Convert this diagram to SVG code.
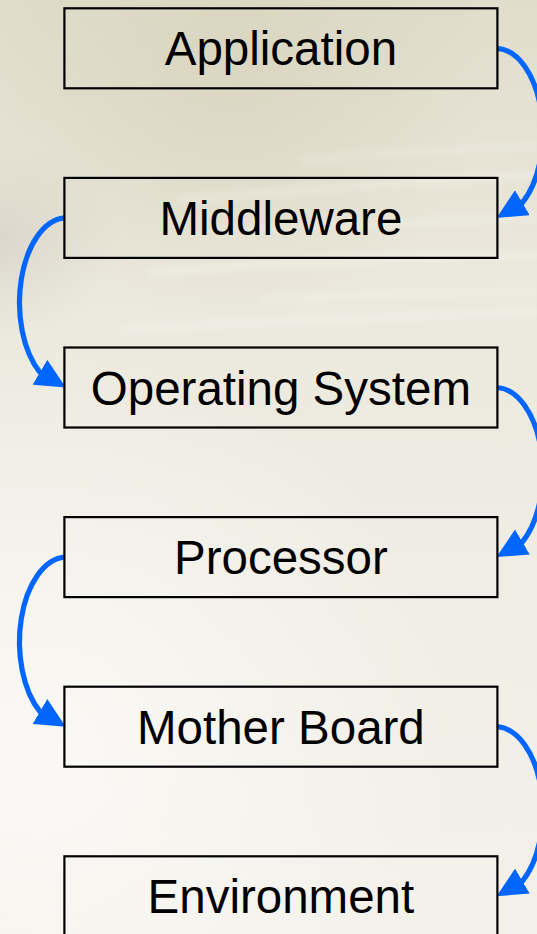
<svg xmlns="http://www.w3.org/2000/svg" width="537" height="934" viewBox="0 0 537 934">
  <style>
    .box rect { fill: none; stroke: #000; stroke-width: 2.2; }
    .box text { font-family: "Liberation Sans", Arial, sans-serif; font-size: 47.5px; fill: #000; text-anchor: middle; }
    .conn path { fill: none; stroke: #0066ff; stroke-width: 5.2; }
  </style>
  <defs>
    <linearGradient id="bg" x1="0" y1="0" x2="0" y2="1">
      <stop offset="0" stop-color="#e0ddcc"/>
      <stop offset="0.3" stop-color="#ebe8dc"/>
      <stop offset="0.6" stop-color="#efede4"/>
      <stop offset="1" stop-color="#f3f1ea"/>
    </linearGradient>
    <radialGradient id="dark" cx="230" cy="60" r="260" gradientUnits="userSpaceOnUse">
      <stop offset="0" stop-color="#d6d2bb" stop-opacity="0.7"/>
      <stop offset="1" stop-color="#d6d2bb" stop-opacity="0"/>
    </radialGradient>
    <radialGradient id="leftband" cx="0" cy="240" r="120" gradientUnits="userSpaceOnUse" gradientTransform="translate(0 240) scale(1 0.8) translate(0 -240)">
      <stop offset="0" stop-color="#cfccbf" stop-opacity="0.55"/>
      <stop offset="1" stop-color="#cfccbf" stop-opacity="0"/>
    </radialGradient>
    <radialGradient id="light" cx="40" cy="760" r="420" gradientUnits="userSpaceOnUse">
      <stop offset="0" stop-color="#fbfaf7" stop-opacity="0.9"/>
      <stop offset="1" stop-color="#fbfaf7" stop-opacity="0"/>
    </radialGradient>
    <filter id="blur" x="-20%" y="-50%" width="140%" height="200%">
      <feGaussianBlur stdDeviation="3.5"/>
    </filter>
    <marker id="ah" markerUnits="userSpaceOnUse" markerWidth="30" markerHeight="29" viewBox="0 -14.5 30 29" refX="1" refY="0" orient="auto">
      <path d="M0,-14.5 L30,0 L0,14.5 z" fill="#0066ff"/>
    </marker>
  </defs>

  <g id="background">
    <rect width="537" height="934" fill="url(#bg)"/>
    <rect width="537" height="934" fill="url(#dark)"/>
    <rect width="537" height="934" fill="url(#leftband)"/>
    <rect width="537" height="934" fill="url(#light)"/>
    <g fill="none" stroke="#ffffff" filter="url(#blur)" stroke-opacity="0.4">
      <path d="M180,200 Q360,185 537,175" stroke-width="4"/>
      <path d="M220,232 Q380,222 537,218" stroke-width="3"/>
      <path d="M150,272 Q350,258 537,255" stroke-width="5"/>
      <path d="M260,300 Q400,292 537,292" stroke-width="3"/>
      <path d="M120,330 Q330,318 537,312" stroke-width="4"/>
      <path d="M300,160 Q420,150 537,146" stroke-width="2.5"/>
    </g>
  </g>

  <g id="connectors" class="conn">
    <path d="M497.4,48.3 A47.4,84.8 0 0 1 522.4,202.7 l-0.862,0.507" marker-end="url(#ah)"/>
    <path d="M64.4,217.9 A47.4,84.8 0 0 0 39.9,372.3 l0.862,0.507" marker-end="url(#ah)"/>
    <path d="M497.4,387.5 A47.4,84.8 0 0 1 522.4,541.9 l-0.862,0.507" marker-end="url(#ah)"/>
    <path d="M64.4,557.1 A47.4,84.8 0 0 0 39.9,711.5 l0.862,0.507" marker-end="url(#ah)"/>
    <path d="M497.4,726.7 A47.4,84.8 0 0 1 522.4,881.1 l-0.862,0.507" marker-end="url(#ah)"/>
  </g>

  <g id="application" class="box">
    <rect x="64.4" y="8.3" width="433" height="80"/>
    <text x="280.9" y="65.3">Application</text>
  </g>
  <g id="middleware" class="box">
    <rect x="64.4" y="177.9" width="433" height="80"/>
    <text x="280.9" y="234.9">Middleware</text>
  </g>
  <g id="operating-system" class="box">
    <rect x="64.4" y="347.5" width="433" height="80"/>
    <text x="280.9" y="404.5">Operating System</text>
  </g>
  <g id="processor" class="box">
    <rect x="64.4" y="517.1" width="433" height="80"/>
    <text x="280.9" y="574.1">Processor</text>
  </g>
  <g id="mother-board" class="box">
    <rect x="64.4" y="686.7" width="433" height="80"/>
    <text x="280.9" y="743.7">Mother Board</text>
  </g>
  <g id="environment" class="box">
    <rect x="64.4" y="856.3" width="433" height="80"/>
    <text x="280.9" y="913.3">Environment</text>
  </g>
</svg>
